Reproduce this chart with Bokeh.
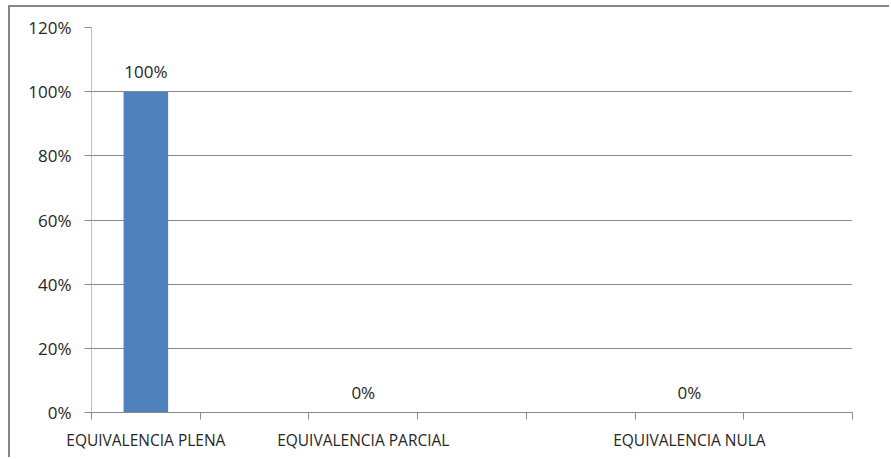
from bokeh.plotting import figure
from bokeh.models import ColumnDataSource, Range1d, FixedTicker, NumeralTickFormatter, LabelSet
from bokeh.core.properties import value
from bokeh.embed import file_html
from bokeh.resources import INLINE

categories = ["EQUIVALENCIA PLENA", "", "EQUIVALENCIA PARCIAL", "", "", "EQUIVALENCIA NULA", ""]
values = [1.0, None, 0.0, None, None, 0.0, None]
y_ticks = [0.0, 0.2, 0.4, 0.6, 0.8, 1.0, 1.2]

xs, ys, labels = [], [], []
for i, v in enumerate(values):
    if v is not None:
        xs.append(i + 0.5)
        ys.append(v)
        labels.append(f"{round(v * 100)}%")
src = ColumnDataSource(dict(x=xs, y=ys, label=labels))

FONT = "Open Sans"
TXT = "#262626"

p = figure(width=881, height=452, output_backend="svg", toolbar_location=None,
           x_range=Range1d(0, len(categories)), y_range=Range1d(0, 1.2),
           min_border_left=81, min_border_right=39, min_border_top=20, min_border_bottom=47,
           styles={"margin-left": "8px", "margin-top": "5px",
                   "border-left": "2px solid #868686", "border-top": "2px solid #868686"})
p.outline_line_color = None

p.vbar(x="x", top="y", width=0.41, bottom=0, source=src, fill_color="#4f81bd", line_color=None)

lab = LabelSet(x="x", y="y", text="label", source=src, text_align="center", text_baseline="bottom",
               y_offset=9, text_font=value(FONT), text_font_size="17px", text_color=TXT)
p.add_layout(lab)

# x axis
centers = [i + 0.5 for i, c in enumerate(categories) if c]
p.xaxis.ticker = FixedTicker(ticks=centers, minor_ticks=list(range(len(categories) + 1)))
p.xaxis.major_label_overrides = {i + 0.5: c for i, c in enumerate(categories) if c}
p.xaxis.major_tick_out = 0
p.xaxis.major_tick_in = 0
p.xaxis.minor_tick_out = 7
p.xaxis.minor_tick_in = 0
p.xaxis.minor_tick_line_color = "#8a8a8a"
p.xaxis.axis_line_color = "#8a8a8a"
p.xaxis.major_label_standoff = 9
p.xaxis.major_label_text_font = FONT
p.xaxis.major_label_text_font_size = "15.5px"
p.xaxis.major_label_text_color = TXT
p.xgrid.grid_line_color = None

# y axis
p.yaxis.ticker = FixedTicker(ticks=y_ticks, minor_ticks=[])
p.yaxis.formatter = NumeralTickFormatter(format="0%")
p.yaxis.major_tick_out = 7
p.yaxis.major_tick_in = 0
p.yaxis.major_tick_line_color = "#8a8a8a"
p.yaxis.minor_tick_line_color = None
p.yaxis.axis_line_color = "#bfbfbf"
p.yaxis.major_label_standoff = 13
p.yaxis.major_label_text_font = FONT
p.yaxis.major_label_text_font_size = "17px"
p.yaxis.major_label_text_color = TXT
p.ygrid.grid_line_color = "#8a8a8a"
p.ygrid.ticker = FixedTicker(ticks=y_ticks[1:])

open("out.html", "w").write(file_html(p, INLINE))
